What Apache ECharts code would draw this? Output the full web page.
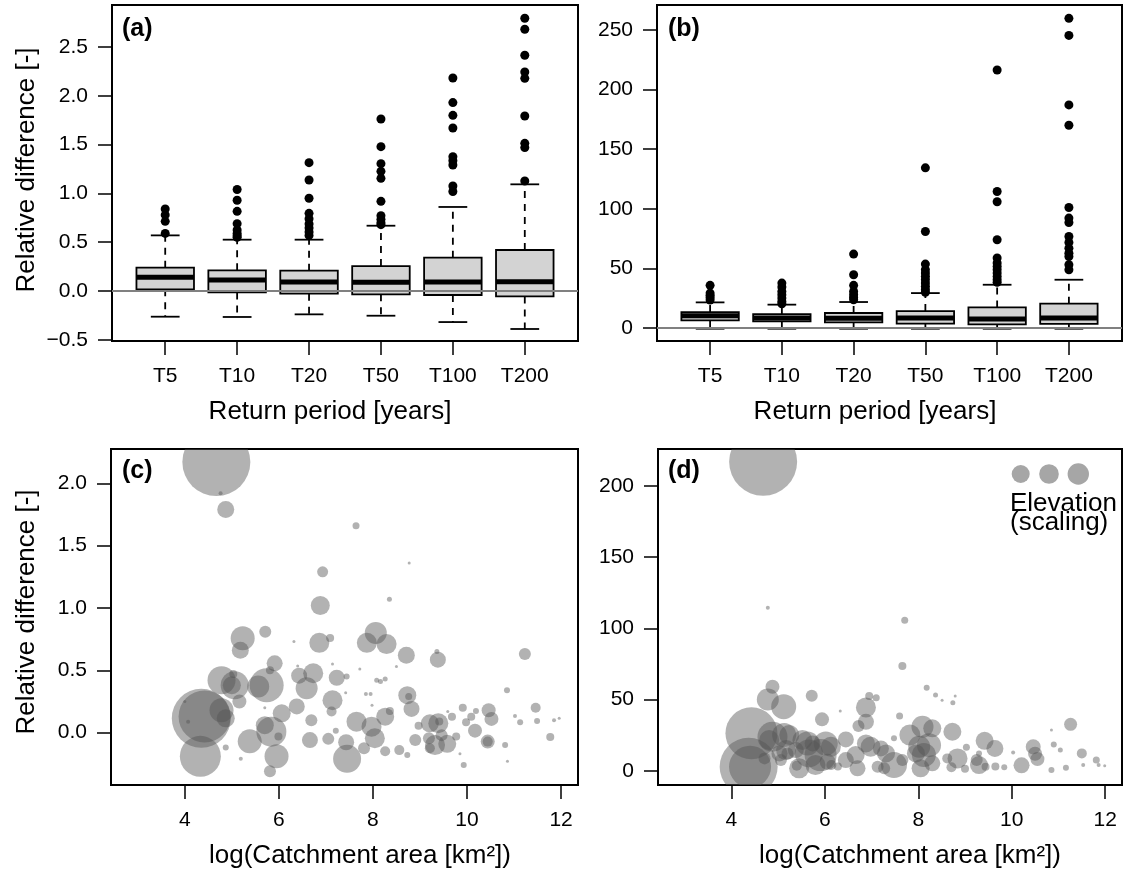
<!DOCTYPE html>
<html>
<head>
<meta charset="utf-8">
<script src="https://cdn.jsdelivr.net/npm/echarts@6/dist/echarts.min.js"></script>
<style>
html, body { margin: 0; padding: 0; background: #fff; }
#main { width: 1125px; height: 873px; }
</style>
</head>
<body>
<div id="main"></div>
<script>
var categories = ['T5', 'T10', 'T20', 'T50', 'T100', 'T200'];

// boxes: [lower whisker, Q1, median, Q3, upper whisker]
var boxA = [
  [-0.263, 0.017, 0.14, 0.239, 0.57],
  [-0.266, -0.014, 0.113, 0.212, 0.526],
  [-0.239, -0.027, 0.092, 0.208, 0.526],
  [-0.253, -0.034, 0.089, 0.256, 0.669],
  [-0.318, -0.041, 0.092, 0.342, 0.861],
  [-0.389, -0.055, 0.096, 0.42, 1.093]
];
var outA = [
  [0.84, 0.78, 0.714, 0.59],
  [1.04, 0.93, 0.816, 0.69, 0.625, 0.59, 0.567, 0.55],
  [1.315, 1.137, 0.95, 0.796, 0.74, 0.686, 0.645, 0.605, 0.57],
  [1.762, 1.479, 1.305, 1.226, 1.154, 0.919, 0.772, 0.734, 0.70, 0.68],
  [2.182, 1.93, 1.80, 1.67, 1.376, 1.335, 1.291, 1.076, 1.02],
  [2.794, 2.681, 2.415, 2.244, 2.179, 1.793, 1.513, 1.469, 1.127]
];
var boxB = [
  [-0.6, 6.4, 10.3, 13.4, 21.5],
  [-0.6, 5.6, 8.4, 11.7, 19.6],
  [-0.6, 4.7, 8.1, 12.6, 21.8],
  [-0.6, 3.6, 8.4, 14.2, 29.3],
  [-0.6, 3.1, 7.6, 17.3, 36.3],
  [-0.6, 3.4, 8.4, 20.4, 40.5]
];
var outB = [
  [35.8, 29.3, 27.4, 25.7, 23.5],
  [37.7, 34.4, 30.7, 27.9, 25.1, 22.3, 20.4],
  [62, 44.7, 35.8, 30.7, 27.9, 25.7, 23.7],
  [134.4, 81, 53.6, 48.9, 46.1, 43.3, 40.5, 37.7, 34.9, 32.1, 29.9],
  [216.5, 114.5, 105.9, 74, 58.7, 54.5, 51.7, 48.9, 46.1, 43.3, 40.5, 38.3],
  [259.8, 245.5, 187.2, 170.1, 101.1, 92.2, 88.5, 76.8, 71.8, 67, 62.8, 60, 53.1, 48.9]
];

var yTicksA = [-0.5, 0, 0.5, 1, 1.5, 2, 2.5];
var yTicksB = [0, 50, 100, 150, 200, 250];
var yTicksC = [0, 0.5, 1, 1.5, 2];
var yTicksD = [0, 50, 100, 150, 200];
var xTicksCD = [4, 6, 8, 10, 12];

// bubbles: [log(catchment area), relative difference, elevation scaling]
var bubblesC = [
  [4.67, 2.17, 68], [4.76, 1.92, 4], [4.87, 1.79, 17], [7.64, 1.66, 7], [8.77, 1.36, 3],
  [6.93, 1.29, 11], [8.35, 1.07, 5], [6.88, 1.02, 19], [5.23, 0.757, 24], [5.71, 0.81, 12],
  [5.18, 0.66, 17], [6.86, 0.72, 20], [7.09, 0.76, 8], [8.06, 0.80, 22], [7.87, 0.72, 20],
  [8.29, 0.71, 20], [8.71, 0.62, 17], [9.38, 0.585, 16], [9.36, 0.65, 5], [11.23, 0.63, 12],
  [6.32, 0.73, 3], [5.91, 0.556, 16], [5.81, 0.50, 8], [4.78, 0.42, 28], [5.06, 0.38, 28],
  [5.00, 0.38, 18], [5.03, 0.47, 8], [5.74, 0.38, 34], [5.56, 0.37, 22], [5.16, 0.25, 14],
  [4.35, 0.115, 59], [4.42, 0.13, 52], [4.78, 0.18, 24], [4.87, 0.115, 18], [4.33, -0.19, 41],
  [4.87, -0.12, 6], [5.19, -0.21, 4], [6.06, 0.155, 18], [6.38, 0.21, 16], [6.43, 0.457, 16],
  [6.73, 0.476, 20], [6.59, 0.356, 22], [7.23, 0.44, 16], [7.44, 0.45, 6], [7.14, 0.26, 20],
  [7.12, 0.17, 10], [6.69, 0.10, 12], [5.84, 0.008, 30], [5.70, 0.06, 18], [5.38, -0.07, 24],
  [5.95, -0.19, 24], [5.81, -0.31, 12], [6.66, -0.06, 16], [7.05, -0.05, 12], [7.21, 0.016, 6],
  [7.43, -0.077, 16], [7.45, -0.21, 28], [7.65, 0.088, 20], [8.73, 0.30, 18], [8.82, 0.19, 16],
  [8.76, 0.29, 7], [8.26, 0.128, 18], [8.36, 0.174, 8], [7.97, 0.048, 20], [8.04, -0.045, 20],
  [7.81, -0.125, 12], [8.26, -0.15, 10], [8.56, -0.14, 10], [8.73, -0.18, 6], [8.90, -0.06, 12],
  [9.21, 0.075, 18], [9.39, 0.075, 20], [9.41, 0.09, 8], [8.97, 0.056, 8], [9.19, -0.045, 12],
  [9.32, -0.10, 20], [9.46, -0.02, 12], [9.58, -0.09, 18], [9.21, -0.125, 10], [9.68, 0.128, 8],
  [9.77, -0.03, 8], [9.91, 0.20, 8], [10.09, 0.128, 8], [10.19, 0.174, 6], [9.98, 0.083, 8],
  [10.17, 0.016, 14], [10.46, 0.18, 14], [10.52, 0.11, 14], [10.44, -0.072, 14], [10.44, -0.072, 10],
  [10.81, -0.10, 6], [10.85, 0.34, 6], [11.02, 0.134, 4], [11.13, 0.083, 6], [11.46, 0.20, 10],
  [11.49, 0.094, 6], [11.77, -0.035, 8], [11.85, 0.10, 4], [11.96, 0.115, 3], [9.93, -0.26, 6],
  [10.86, -0.23, 3], [9.85, -0.17, 3], [8.08, 0.42, 5], [8.16, 0.41, 5], [8.26, 0.43, 5],
  [7.85, 0.31, 4], [7.95, 0.31, 4], [7.72, 0.51, 3], [8.50, 0.53, 3], [7.98, 0.22, 3],
  [9.59, 0.17, 3], [6.40, 0.535, 3], [7.14, 0.55, 3], [7.42, 0.32, 3], [5.70, 0.20, 3],
  [4.07, 0.088, 4], [4.00, 0.25, 3], [5.99, -0.03, 8]
];
var bubblesD = [
  [4.68, 217, 68], [4.78, 114.5, 4], [7.71, 105.8, 7], [7.66, 73.5, 8], [8.18, 58.3, 6],
  [8.37, 53.2, 5], [8.51, 49.6, 3], [8.74, 47.8, 5], [8.79, 52.5, 3], [5.72, 52.7, 12],
  [4.88, 59, 14], [4.78, 50.1, 22], [5.12, 45, 25], [4.43, 26.3, 52], [4.37, 2.8, 58],
  [4.40, 2.8, 42], [5.94, 36.1, 14], [6.95, 52.5, 8], [7.10, 51.3, 7], [6.88, 44.5, 20],
  [6.88, 34.4, 16], [6.72, 31.4, 12], [6.33, 42, 3], [7.60, 38.4, 7], [8.73, 27.4, 18],
  [8.09, 30.9, 22], [8.30, 29.8, 18], [7.82, 25.1, 21], [11.26, 32.6, 13], [10.85, 28.6, 3],
  [10.90, 18.5, 6], [11.04, 14.5, 5], [11.50, 12.2, 10], [11.53, 4, 4], [11.81, 7.5, 7],
  [11.86, 4, 4], [11.99, 3.5, 3], [11.16, 2.1, 6], [10.85, 0.5, 6], [10.46, 16.9, 15],
  [10.50, 12, 14], [10.55, 8.2, 14], [10.21, 3.8, 16], [10.03, 12.9, 4], [9.42, 21, 18],
  [9.64, 15.7, 17], [9.30, 12.2, 6], [9.03, 16.6, 7], [9.25, 7.5, 12], [9.44, 2.8, 8],
  [4.88, 23.9, 30], [4.81, 21.6, 20], [5.13, 25.1, 24], [5.24, 25.1, 20], [4.71, 8.7, 12],
  [5.03, 12.2, 16], [5.17, 14.5, 20], [5.52, 21.6, 20], [5.63, 19.2, 24], [5.38, 14.5, 16],
  [5.45, 1.7, 20], [5.66, 12.2, 28], [5.91, 11, 32], [5.80, 4, 20], [6.02, 19.2, 24],
  [6.13, 16.9, 20], [6.06, 6.3, 16], [5.74, 19.2, 16], [6.45, 22, 16], [6.45, 7.5, 16],
  [6.66, 11, 18], [6.70, 1.7, 16], [6.88, 19.2, 18], [6.98, 16.9, 20], [7.20, 15.7, 16],
  [7.13, 2.8, 12], [7.27, 1.7, 12], [5.20, 12.2, 12], [5.06, 7.5, 12], [5.40, 3.5, 10],
  [7.48, 22.8, 6], [8.02, 16.9, 22], [8.23, 18, 24], [8.12, 11, 24], [7.95, 12.2, 18],
  [7.31, 12.2, 18], [7.48, 4, 26], [7.66, 7.5, 12], [8.05, 1.7, 18], [8.30, 5.2, 16],
  [8.62, 8.7, 10], [8.84, 8.7, 20], [9.30, 4, 18], [6.14, 4.0, 10], [6.28, 3.0, 8],
  [8.71, 2.5, 10], [9.00, 1.5, 8], [9.65, 3.0, 8], [9.84, 2.5, 6]
];

var font = '"Liberation Sans", Arial, Helvetica, sans-serif';
var myChart = echarts.init(document.getElementById('main'));

function minus(v, digits) {
  var s = v.toFixed(digits);
  return s.charAt(0) === '-' ? '\u2212' + s.slice(1) : s;
}

function yAxis(grid, min, max, ticks, fmt) {
  return {
    type: 'value', gridIndex: grid, min: min, max: max,
    axisLine: { show: false, onZero: false },
    splitLine: { show: false },
    axisTick: { show: true, length: 14, customValues: ticks, lineStyle: { color: '#000', width: 1.5 } },
    axisLabel: { customValues: ticks, margin: 24, fontSize: 21, color: '#000', fontFamily: font, formatter: fmt }
  };
}

function xAxis(grid, min, max, ticks, fmt) {
  return {
    type: 'value', gridIndex: grid, min: min, max: max, position: 'bottom',
    axisLine: { show: false, onZero: false },
    splitLine: { show: false },
    axisTick: { show: true, length: 14, customValues: ticks, lineStyle: { color: '#000', width: 1.5 } },
    axisLabel: { customValues: ticks, margin: 25, fontSize: 21, color: '#000', fontFamily: font, formatter: fmt }
  };
}

function boxItem(params, api) {
  var x = api.value(0);
  var lo = api.coord([x, api.value(1)]);
  var q1 = api.coord([x, api.value(2)]);
  var md = api.coord([x, api.value(3)]);
  var q3 = api.coord([x, api.value(4)]);
  var hi = api.coord([x, api.value(5)]);
  var w = api.size([0.8, 0])[0];
  var cx = lo[0];
  var dash = { stroke: '#000', lineWidth: 1.8, lineDash: [7, 6] };
  var solid = { stroke: '#000', lineWidth: 1.8 };
  return {
    type: 'group',
    children: [
      { type: 'line', shape: { x1: cx, y1: q3[1], x2: cx, y2: hi[1] }, style: dash },
      { type: 'line', shape: { x1: cx, y1: q1[1], x2: cx, y2: lo[1] }, style: dash },
      { type: 'line', shape: { x1: cx - w / 4, y1: hi[1], x2: cx + w / 4, y2: hi[1] }, style: solid },
      { type: 'line', shape: { x1: cx - w / 4, y1: lo[1], x2: cx + w / 4, y2: lo[1] }, style: solid },
      { type: 'rect', shape: { x: cx - w / 2, y: q3[1], width: w, height: q1[1] - q3[1] },
        style: { fill: '#d3d3d3', stroke: '#000', lineWidth: 1.8 } },
      { type: 'line', shape: { x1: cx - w / 2, y1: md[1], x2: cx + w / 2, y2: md[1] },
        style: { stroke: '#000', lineWidth: 5 } }
    ]
  };
}

var bubbleColor = 'rgba(85,85,85,0.45)';
function bubbleItem(params, api) {
  var p = api.coord([api.value(0), api.value(1)]);
  return {
    type: 'circle',
    shape: { cx: p[0], cy: p[1], r: api.value(2) / 2 },
    style: { fill: bubbleColor }
  };
}

function boxData(boxes) {
  return boxes.map(function (b, i) { return [i + 1].concat(b); });
}
function outlierData(outs) {
  var d = [];
  outs.forEach(function (arr, i) { arr.forEach(function (v) { d.push([i + 1, v]); }); });
  return d;
}

var zeroLine = {
  silent: true, symbol: 'none', label: { show: false },
  lineStyle: { color: '#808080', width: 2, type: 'solid' },
  data: [{ yAxis: 0 }]
};

var catTicks = [1, 2, 3, 4, 5, 6];
var catFmt = function (v) { return categories[Math.round(v) - 1]; };

function titleText(x, y, text, rot) {
  return {
    type: 'text', x: x, y: y, rotation: rot || 0,
    style: { text: text, fontSize: 26, fontFamily: font, fill: '#000', align: 'center', verticalAlign: 'middle' }
  };
}
function panelLabel(x, y, text) {
  return {
    type: 'text', x: x, y: y,
    style: { text: text, fontSize: 25, fontWeight: 'bold', fontFamily: font, fill: '#000', align: 'left', verticalAlign: 'middle' }
  };
}

var option = {
  animation: false,
  backgroundColor: '#fff',
  grid: [
    { left: 112, top: 5, width: 466, height: 336, show: true, borderColor: '#000', borderWidth: 2, containLabel: false },
    { left: 657, top: 5, width: 465, height: 336, show: true, borderColor: '#000', borderWidth: 2, containLabel: false },
    { left: 111, top: 449, width: 467, height: 336, show: true, borderColor: '#000', borderWidth: 2, containLabel: false },
    { left: 658, top: 449, width: 464, height: 336, show: true, borderColor: '#000', borderWidth: 2, containLabel: false }
  ],
  xAxis: [
    xAxis(0, 0.26, 6.74, catTicks, catFmt),
    xAxis(1, 0.26, 6.74, catTicks, catFmt),
    xAxis(2, 2.43, 12.36, xTicksCD, function (v) { return String(v); }),
    xAxis(3, 2.43, 12.36, xTicksCD, function (v) { return String(v); })
  ],
  yAxis: [
    yAxis(0, -0.512, 2.93, yTicksA, function (v) { return minus(v, 1); }),
    yAxis(1, -10.9, 271, yTicksB, function (v) { return String(v); }),
    yAxis(2, -0.42, 2.275, yTicksC, function (v) { return minus(v, 1); }),
    yAxis(3, -10, 226, yTicksD, function (v) { return String(v); })
  ],
  series: [
    { type: 'custom', xAxisIndex: 0, yAxisIndex: 0, renderItem: boxItem, data: boxData(boxA),
      encode: { x: 0, y: [1, 2, 3, 4, 5] }, z: 2, silent: true },
    { type: 'scatter', xAxisIndex: 0, yAxisIndex: 0, data: outlierData(outA), symbol: 'circle',
      symbolSize: 9, itemStyle: { color: '#000', opacity: 1 }, z: 3, silent: true, markLine: zeroLine },
    { type: 'custom', xAxisIndex: 1, yAxisIndex: 1, renderItem: boxItem, data: boxData(boxB),
      encode: { x: 0, y: [1, 2, 3, 4, 5] }, z: 2, silent: true },
    { type: 'scatter', xAxisIndex: 1, yAxisIndex: 1, data: outlierData(outB), symbol: 'circle',
      symbolSize: 9, itemStyle: { color: '#000', opacity: 1 }, z: 3, silent: true, markLine: zeroLine },
    { type: 'custom', xAxisIndex: 2, yAxisIndex: 2, renderItem: bubbleItem, data: bubblesC,
      encode: { x: 0, y: 1 }, clip: true, silent: true },
    { type: 'custom', xAxisIndex: 3, yAxisIndex: 3, renderItem: bubbleItem, data: bubblesD,
      encode: { x: 0, y: 1 }, clip: true, silent: true }
  ],
  graphic: [
    titleText(330, 412, 'Return period [years]'),
    titleText(875, 412, 'Return period [years]'),
    titleText(360, 856, 'log(Catchment area [km\u00b2])'),
    titleText(910, 856, 'log(Catchment area [km\u00b2])'),
    titleText(27, 170, 'Relative difference [-]', Math.PI / 2),
    titleText(27, 612, 'Relative difference [-]', Math.PI / 2),
    panelLabel(122, 29, '(a)'),
    panelLabel(668, 29, '(b)'),
    panelLabel(122, 471, '(c)'),
    panelLabel(668, 471, '(d)'),
    { type: 'circle', shape: { cx: 1020.7, cy: 474, r: 9 }, style: { fill: '#a6a6a6' } },
    { type: 'circle', shape: { cx: 1049, cy: 474, r: 9.8 }, style: { fill: '#a6a6a6' } },
    { type: 'circle', shape: { cx: 1078.3, cy: 474, r: 10.7 }, style: { fill: '#a6a6a6' } },
    { type: 'text', x: 1010, y: 504, style: { text: 'Elevation', fontSize: 26, fontFamily: font, fill: '#000', align: 'left', verticalAlign: 'middle' } },
    { type: 'text', x: 1010, y: 523, style: { text: '(scaling)', fontSize: 26, fontFamily: font, fill: '#000', align: 'left', verticalAlign: 'middle' } }
  ]
};

myChart.setOption(option);
</script>
</body>
</html>
